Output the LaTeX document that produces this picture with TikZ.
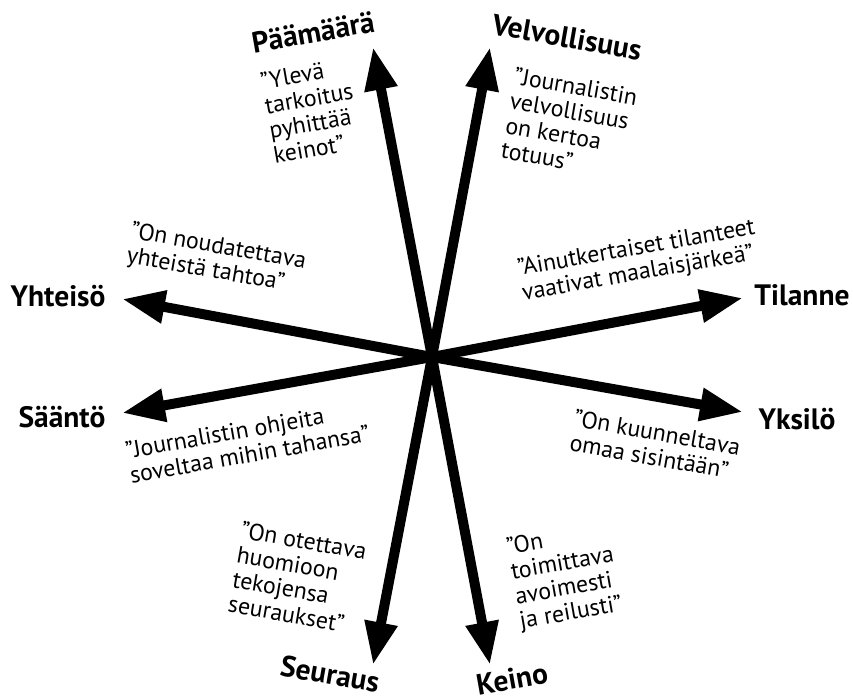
\documentclass[tikz,border=0pt]{standalone}
\usepackage{fontspec}
\setmainfont{PT Sans}
\usetikzlibrary{arrows.meta}
\begin{document}
\begin{tikzpicture}[x=1pt,y=-1pt,
  arr/.style={line width=10pt,-{Triangle[length=43pt,width=31pt]}},
  lab/.style={font=\fontsize{29.5}{31}\selectfont\bfseries, inner sep=0pt},
  quo/.style={font=\fontsize{23.8}{25}\selectfont, align=left, inner sep=0pt, anchor=north west}]
\useasboundingbox (0,0) rectangle (853,698);
\coordinate (c) at (432,357);
\coordinate (tP) at (373,47);
\coordinate (tV) at (490,47);
\coordinate (tY) at (122,299);
\coordinate (tS) at (122,413);
\coordinate (tT) at (743,298);
\coordinate (tK) at (743,412);
\coordinate (tSe) at (373,665);
\coordinate (tKe) at (490,665);
\foreach \t in {tP,tV,tY,tS,tT,tK,tSe,tKe} \draw[arr] (c) -- (\t);
\node[lab,rotate=10] (lP) at (313,32) {Päämäärä};
\node[lab,rotate=-10] (lV) at (567,37) {Velvollisuus};
\node[lab] (lY) at (58,296) {Yhteisö};
\node[lab] (lS) at (62,417) {Sääntö};
\node[lab] (lT) at (802,295) {Tilanne};
\node[lab] (lK) at (797,419) {Yksilö};
\node[lab,rotate=-10] (lSe) at (330,674) {Seuraus};
\node[lab,rotate=10] (lKe) at (512,679) {Keino};
\node[quo,rotate=10] (qP) at (259,73) {”Ylevä\\tarkoitus\\pyhittää\\keinot”};
\node[quo,rotate=-10] (qV) at (516,67) {”Journalistin\\velvollisuus\\on kertoa\\totuus”};
\node[quo,rotate=-10] (qY) at (133,221) {”On noudatettava\\yhteistä tahtoa”};
\node[quo,rotate=10] (qS) at (124,442) {”Journalistin ohjeita\\soveltaa mihin tahansa”};
\node[quo,rotate=10] (qT) at (516,259) {”Ainutkertaiset tilanteet\\vaativat maalaisjärkeä”};
\node[quo,rotate=-10] (qK) at (576,409) {”On kuunneltava\\omaa sisintään”};
\node[quo,rotate=-10] (qSe) at (243,521) {”On otettava\\huomioon\\tekojensa\\seuraukset”};
\node[quo,rotate=10] (qKe) at (505,538) {”On\\toimittava\\avoimesti\\ja reilusti”};
\end{tikzpicture}
\end{document}
